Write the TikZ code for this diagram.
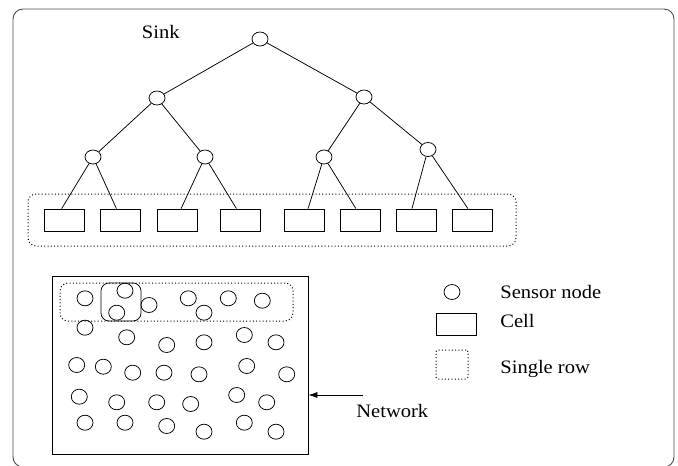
\documentclass[tikz,border=0pt]{standalone}
\usepackage{fontspec}
\setmainfont{Liberation Serif}
\usetikzlibrary{shapes.geometric,calc,arrows.meta}
\begin{document}
\begin{tikzpicture}[x=1pt,y=-1pt,line width=0.75pt,
  tnode/.style={ellipse,draw,minimum width=16pt,minimum height=14pt,inner sep=0pt},
  snode/.style={ellipse,draw,minimum width=16pt,minimum height=15pt,inner sep=0pt},
  cellbox/.style={rectangle,draw,minimum width=40pt,minimum height=22pt,inner sep=0pt},
  dotbox/.style={draw,line width=1pt,dash pattern=on 1pt off 2.3pt,rounded corners=8pt},
  lbl/.style={font=\fontsize{19}{19}\selectfont,inner sep=0pt,xscale=1.08},
  frame/.style={draw=black!70,line width=0.9pt,rounded corners=10pt}]
\useasboundingbox (0,0) rectangle (678,466);
\draw[frame] (13,9) rectangle (674,467);
% tree
\node[tnode] (r) at (260,39) {};
\node[tnode] (a) at (157,98) {};
\node[tnode] (b) at (364,97) {};
\node[tnode] (aa) at (93,157) {};
\node[tnode] (ab) at (205,157) {};
\node[tnode] (ba) at (324,157) {};
\node[tnode] (bb) at (428,149.5) {};
\foreach \n/\x in {c1/64.5,c2/120.5,c3/177,c4/240.5,c5/304,c6/360,c7/416,c8/472}
  \node[cellbox] (\n) at (\x,220) {};
\draw (r) -- (a); \draw (r) -- (b);
\draw (a) -- (aa); \draw (a) -- (ab);
\draw (b) -- (ba); \draw (b) -- (bb);
\draw (aa) -- ($(c1.north west)!0.43!(c1.north east)$);
\draw (aa) -- ($(c2.north west)!0.4!(c2.north east)$);
\draw (ab) -- ($(c3.north west)!0.6!(c3.north east)$);
\draw (ab) -- ($(c4.north west)!0.4!(c4.north east)$);
\draw (ba) -- ($(c5.north west)!0.6!(c5.north east)$);
\draw (ba) -- ($(c6.north west)!0.4!(c6.north east)$);
\draw (bb) -- ($(c7.north west)!0.4!(c7.north east)$);
\draw (bb) -- ($(c8.north west)!0.4!(c8.north east)$);
\node[dotbox,minimum width=488pt,minimum height=52pt,inner sep=0pt] (row) at (272,220) {};
\node[lbl,anchor=base west] (sink) at (141.5,38) {Sink};
% network
\node[draw,rectangle,minimum width=256pt,minimum height=178pt,inner sep=0pt] (net) at (180,365) {};
\node[dotbox,minimum width=233pt,minimum height=38pt,inner sep=0pt] (nrow) at (176.5,302) {};
\node[draw,rounded corners=8pt,minimum width=40pt,minimum height=38pt,inner sep=0pt] (ncell) at (121,302) {};
\foreach \i/\p in {1/{85,298.3},2/{125,290.7},3/{116.7,312.7},4/{149,305},5/{188.3,298.3},6/{204,312.7},7/{228.3,298.3},8/{262.3,300.7},
  9/{85,327.7},10/{126.7,337.3},11/{166.7,345},12/{204,342.3},13/{244.3,335},14/{276,342.3},
  15/{76.7,365},16/{103.3,366.7},17/{132.7,372.7},18/{164,372.7},19/{199,374.3},20/{246.7,366},21/{286.7,374.3},
  22/{79.3,396.7},23/{116.7,402.3},24/{156.7,402.3},25/{190.7,404},26/{236.7,395},27/{266.7,402.3},
  28/{85,422.7},29/{125,422.7},30/{166.7,426},31/{204,431.7},32/{244.3,422.7},33/{276,431.7}}
  \node[snode] (s\i) at (\p) {};
\coordinate (arr) at (363,395);
\draw[-{Latex[length=9pt,width=6pt]}] (arr) -- (arr -| net.east);
\node[lbl,anchor=base west] (nettxt) at (356,417) {Network};
% legend
\node[snode] (lsn) at (452,292) {};
\node[cellbox] (lcell) at (456,324.5) {};
\node[draw,line width=1pt,dash pattern=on 1pt off 2.3pt,rounded corners=2pt,minimum width=32pt,minimum height=29pt,inner sep=0pt] (lrow) at (452,364.5) {};
\node[lbl,anchor=base west] (t1) at (500,298) {Sensor node};
\node[lbl,anchor=base west] (t2) at (500,327) {Cell};
\node[lbl,anchor=base west] (t3) at (500,373) {Single row};
\end{tikzpicture}
\end{document}
